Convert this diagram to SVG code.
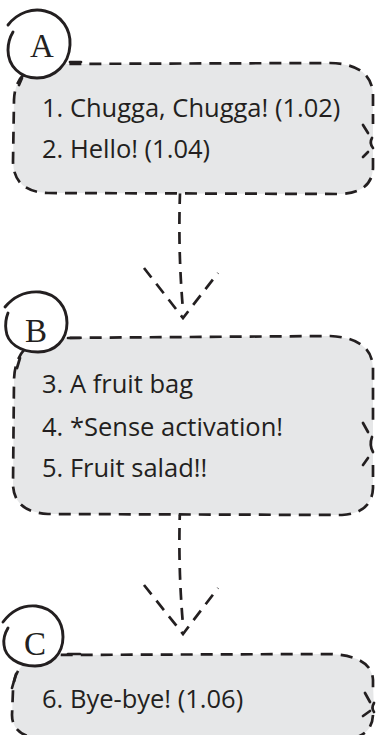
<svg xmlns="http://www.w3.org/2000/svg" width="377" height="735" viewBox="0 0 377 735">
  <style>
    .fill { fill: #e6e7e8; stroke: none; }
    .dash { fill: none; stroke: #231f20; stroke-width: 2.7; stroke-dasharray: 12 8; stroke-linecap: butt; }
    .solid { fill: none; stroke: #231f20; stroke-width: 2.7; stroke-linecap: round; }
    .badge { fill: #ffffff; stroke: none; }
    .ring { fill: none; stroke: #231f20; stroke-width: 2.9; stroke-linecap: round; }
    .item { font-family: "Open Sans", "Liberation Sans", sans-serif; font-size: 25.5px; fill: #231f20; }
    .tag { font-family: "Liberation Serif", "DejaVu Serif", serif; font-size: 33px; fill: #231f20; text-anchor: middle; }
  </style>

  <!-- connectors: dashed shafts with open dashed heads -->
  <g id="connectors">
    <path class="dash" d="M181 172 Q177 240 183 310"/>
    <path class="dash" d="M144 268 L183 318 L218 273"/>
    <path class="dash" d="M181 488 Q177 555 183 625"/>
    <path class="dash" d="M144 585 L183 634 L218 588"/>
  </g>

  <!-- block A -->
  <g id="node-a">
    <path class="fill" d="M45 64 L330 63 Q372 64 373 95 L373 168 Q372 192 342 194 L48 193 Q14 192 13 162 L14 100 Q15 70 45 64 Z"/>
    <path class="dash" d="M373 158 L373 168 Q372 192 342 194 L48 193 Q14 192 13 162 L14 100 Q15 70 45 64 L330 63 Q372 64 373 95 L373 124"/>
    <path class="solid" d="M363 125 L368 133 M372 138 Q369 143 373 148 M368 152 L363 157"/>
    <path class="badge" d="M38 10 C58 10 70 25 70 43 C70 64 56 78 37 78 C18 78 6 63 7 45 C8 26 20 10 38 10 Z"/>
    <path class="ring" d="M8 25 C18 12 33 8 45 11 C62 15 71 30 70 45 C69 64 55 78 37 78 C20 78 8 66 8 50 C8 42 10 37 13 32"/>
    <path class="solid" d="M22 78 L19 85 M70 62 L81 62"/>
    <text class="tag" x="42" y="57">A</text>
    <text class="item" x="42" y="117">1. Chugga, Chugga! (1.02)</text>
    <text class="item" x="42" y="158">2. Hello! (1.04)</text>
  </g>

  <!-- block B -->
  <g id="node-b">
    <path class="fill" d="M45 338 L330 336 Q372 338 373 368 L373 488 Q372 513 342 515 L48 514 Q14 512 13 485 L14 380 Q15 345 45 338 Z"/>
    <path class="dash" d="M373 465 L373 488 Q372 513 342 515 L48 514 Q14 512 13 485 L14 380 Q15 345 45 338 L330 336 Q372 338 373 368 L373 423"/>
    <path class="solid" d="M363 423 L368 432 M372 437 Q369 445 373 452 M368 458 L363 465"/>
    <path class="badge" d="M36 292 C55 292 67 306 67 323 C67 341 55 353 38 353 C19 353 5 341 5 325 C5 307 18 292 36 292 Z"/>
    <path class="ring" d="M5 307 C15 295 28 291 40 292 C57 294 67 307 67 323 C67 340 55 352 38 352 C20 352 7 343 6 330 C5 323 6 318 8 313"/>
    <path class="solid" d="M20 358 L17 368 M68 338 L80 338"/>
    <text class="tag" x="36" y="342">B</text>
    <text class="item" x="42" y="393">3. A fruit bag</text>
    <text class="item" x="42" y="436">4. *Sense activation!</text>
    <text class="item" x="42" y="477">5. Fruit salad!!</text>
  </g>

  <!-- block C -->
  <g id="node-c">
    <path class="fill" d="M45 655 L330 654 Q372 656 373 680 L374 715 Q372 738 342 740 L48 740 Q12 738 12 715 L13 690 Q14 660 45 655 Z"/>
    <path class="dash" d="M373 715 Q372 738 342 740 L48 740 Q12 738 12 715 L13 690 Q14 660 45 655 L330 654 Q372 656 373 680 L373 693"/>
    <path class="solid" d="M365 693 L370 702 M374 703 Q371 708 374 712 M370 711 L363 716"/>
    <path class="badge" d="M33 606 C52 606 63 620 63 637 C63 655 51 667 35 667 C16 667 3 655 3 639 C3 621 15 606 33 606 Z"/>
    <path class="ring" d="M3 622 C12 610 24 605 36 606 C53 608 63 621 63 637 C63 654 51 666 35 666 C18 666 5 657 4 645 C3 638 5 633 8 628"/>
    <path class="solid" d="M16 674 L12 688 M68 654 L80 654"/>
    <text class="tag" x="35" y="655">C</text>
    <text class="item" x="42" y="708">6. Bye-bye! (1.06)</text>
  </g>
</svg>
